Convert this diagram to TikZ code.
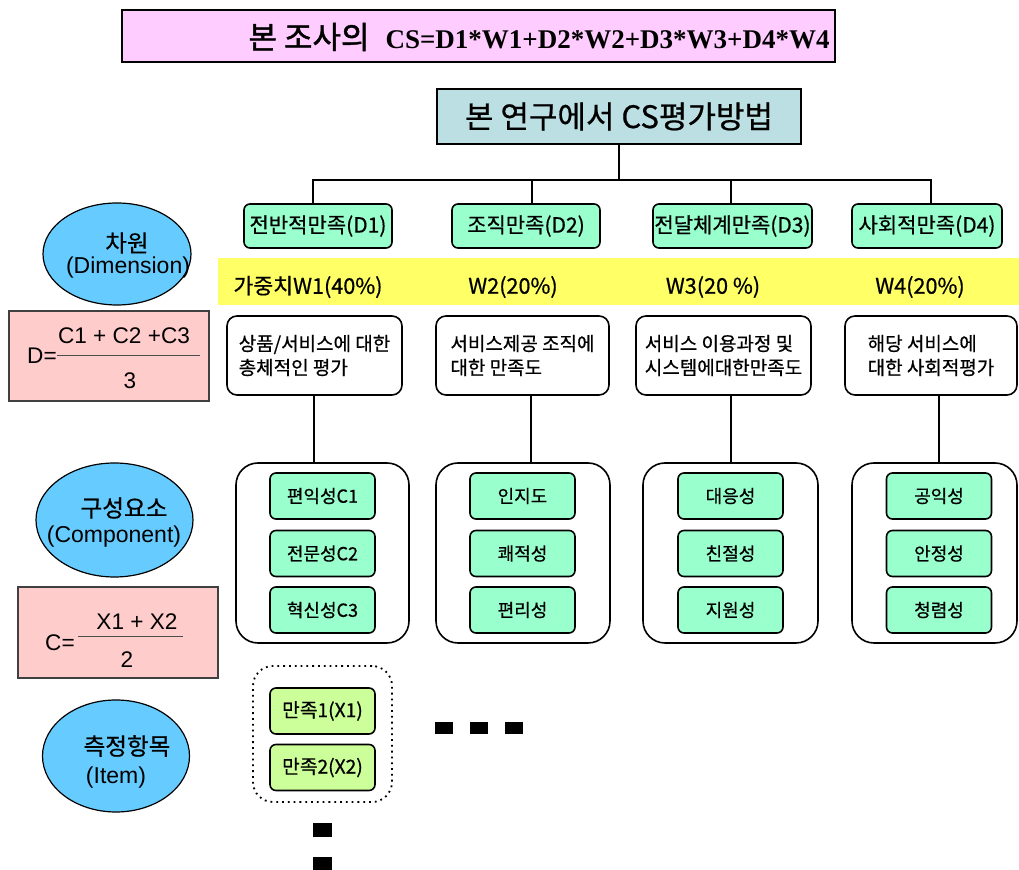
\documentclass[tikz,border=0pt]{standalone}
\usepackage{fontspec}
\setmainfont[FakeBold=0.6]{Noto Sans CJK KR}
\newfontfamily\lat{Liberation Sans}
\newfontfamily\tms{Liberation Serif}
\newfontfamily\krb[FakeBold=1.5]{Noto Sans CJK KR}
\usetikzlibrary{shapes.geometric}
\definecolor{titlefill}{HTML}{FFCCFF}
\definecolor{csfill}{HTML}{BBDFE2}
\definecolor{dfill}{HTML}{99FFCC}
\definecolor{bandfill}{HTML}{FFFF66}
\definecolor{ellfill}{HTML}{66CCFF}
\definecolor{formfill}{HTML}{FFCCCC}
\definecolor{xfill}{HTML}{CCFF99}
\begin{document}
\begin{tikzpicture}[x=0.5pt,y=-0.5pt,
  box/.style={draw, line width=0.8pt, inner sep=0pt, align=center},
  dbox/.style={box, fill=dfill, rounded corners=3pt, minimum height=22pt, font=\fontsize{10.5}{12}\selectfont},
  descbox/.style={box, fill=white, rounded corners=5pt, minimum height=39.5pt, align=left, font=\fontsize{9.5}{12}\selectfont},
  compbox/.style={box, fill=white, rounded corners=11pt, minimum height=90pt},
  itembox/.style={box, fill=dfill, rounded corners=3pt, minimum width=52.5pt, minimum height=23pt, font=\fontsize{9}{11}\selectfont},
  xbox/.style={itembox, fill=xfill, font=\fontsize{9.6}{11}\selectfont},
  ell/.style={ellipse, draw, line width=0.6pt, fill=ellfill, inner sep=0pt},
  etext/.style={inner sep=0pt, font=\fontsize{11.8}{12.5}\selectfont},
  eltext/.style={inner sep=0pt, font=\lat\fontsize{11.5}{12.5}\selectfont},
  formbox/.style={draw=black!75, line width=0.8pt, fill=formfill, inner sep=0pt, minimum width=100pt},
  wtext/.style={font=\fontsize{10.8}{12}\selectfont, inner sep=0pt},
  ftext/.style={font=\lat\fontsize{11.3}{12}\selectfont, inner sep=0pt},
  conn/.style={line width=0.6pt},
  dots/.style={fill=black}]
\useasboundingbox (0,0) rectangle (1019,870);

% title
\node[draw, line width=1.4pt, fill=titlefill, minimum width=356.5pt, minimum height=26pt, inner sep=0pt] (title) at (478.5,36) {};
\node[anchor=east, inner sep=0pt] (titletext) at (830,37) {{\krb\fontsize{15.5}{17}\selectfont 본 조사의}\hspace{8pt}{\tms\bfseries\fontsize{13.5}{15}\selectfont CS=D1*W1+D2*W2+D3*W3+D4*W4}};

% root
\node[box, fill=csfill, minimum width=182pt, minimum height=27.5pt, font=\fontsize{15.5}{17}\selectfont] (cs) at (619,116.5) {본 연구에서 CS평가방법};

% dimension boxes
\node[dbox, minimum width=74pt] (d1) at (318,226) {전반적만족(D1)};
\node[dbox, minimum width=74pt] (d2) at (526,226) {조직만족(D2)};
\node[dbox, minimum width=79.5pt] (d3) at (732.5,226) {전달체계만족(D3)};
\node[dbox, minimum width=75pt] (d4) at (927,226) {사회적만족(D4)};

\coordinate (bus) at (0,180);
\coordinate (dx1) at (313,0);
\coordinate (dx2) at (532,0);
\coordinate (dx3) at (731,0);
\coordinate (dx4) at (931,0);
\draw[conn] (cs.south) -- (cs.south |- bus);
\draw[conn] (d1.north -| dx1) -- (dx1 |- bus) -- (dx4 |- bus) -- (d4.north -| dx4);
\draw[conn] (d2.north -| dx2) -- (dx2 |- bus);
\draw[conn] (d3.north -| dx3) -- (dx3 |- bus);

% weight band
\fill[bandfill] (218,258) rectangle (1019,305);
\node[wtext] (w1) at (308,287) {가중치W1(40\%)};
\node[wtext] (w2) at (513,287) {W2(20\%)};
\node[wtext] (w3) at (713,287) {W3(20 \%)};
\node[wtext] (w4) at (920,287) {W4(20\%)};

% description boxes
\node[descbox, minimum width=87.5pt] (desc1) at (314.5,355.5) {상품/서비스에 대한\\총체적인 평가};
\node[descbox, minimum width=86.5pt] (desc2) at (522.5,355.5) {서비스제공 조직에\\대한 만족도};
\node[descbox, minimum width=87.5pt] (desc3) at (723.5,355.5) {서비스 이용과정 및\\시스템에대한만족도};
\node[descbox, minimum width=86pt] (desc4) at (931,355.5) {해당 서비스에\\대한 사회적평가};

% component containers
\node[compbox, minimum width=86.5pt] (comp1) at (322.5,553) {};
\node[compbox, minimum width=87pt] (comp2) at (523,553) {};
\node[compbox, minimum width=87.5pt] (comp3) at (730.5,553) {};
\node[compbox, minimum width=82.5pt] (comp4) at (934.5,553) {};

\coordinate (lx1) at (314,0);
\coordinate (lx2) at (531,0);
\coordinate (lx3) at (731,0);
\coordinate (lx4) at (939,0);
\draw[conn] (desc1.south -| lx1) -- (comp1.north -| lx1);
\draw[conn] (desc2.south -| lx2) -- (comp2.north -| lx2);
\draw[conn] (desc3.south -| lx3) -- (comp3.north -| lx3);
\draw[conn] (desc4.south -| lx4) -- (comp4.north -| lx4);

% component items
\node[itembox] (c11) at (322.5,496) {편익성C1};
\node[itembox] (c12) at (322.5,553.5) {전문성C2};
\node[itembox] (c13) at (322.5,610) {혁신성C3};
\node[itembox] (c21) at (522.5,496) {인지도};
\node[itembox] (c22) at (522.5,553.5) {쾌적성};
\node[itembox] (c23) at (522.5,610) {편리성};
\node[itembox] (c31) at (730.5,496) {대응성};
\node[itembox] (c32) at (730.5,553.5) {친절성};
\node[itembox] (c33) at (730.5,610) {지원성};
\node[itembox] (c41) at (939,496) {공익성};
\node[itembox] (c42) at (939,553.5) {안정성};
\node[itembox] (c43) at (939,610) {청렴성};

% left ellipses
\node[ell, minimum width=74pt, minimum height=51pt] (e1) at (117,254) {};
\node[etext] (e1a) at (127,243) {차원};
\node[eltext] (e1b) at (128,268) {(Dimension)};
\node[ell, minimum width=78.5pt, minimum height=57pt] (e2) at (114.5,520) {};
\node[etext] (e2a) at (124,508) {구성요소};
\node[eltext] (e2b) at (114,537) {(Component)};
\node[ell, minimum width=73.5pt, minimum height=56pt] (e3) at (116,756) {};
\node[etext] (e3a) at (127,746) {측정항목};
\node[eltext] (e3b) at (116,778) {(Item)};

% formula boxes
\node[formbox, minimum height=45pt] (fd) at (109,356) {};
\node[ftext] (fdlab) at (42,356) {D=};
\node[ftext] (fdnum) at (124,336) {C1 + C2 +C3};
\node[ftext] (fdden) at (130,381) {3};
\coordinate (fdl) at (57,356);
\coordinate (fdr) at (200,356);
\draw[line width=0.5pt, black!70] (fdl) -- (fdr);

\node[formbox, minimum height=45.5pt] (fc) at (118,632.5) {};
\node[ftext] (fclab) at (60,643) {C=};
\node[ftext] (fcnum) at (137,622) {X1 + X2};
\node[ftext] (fcden) at (127,660) {2};
\coordinate (fcl) at (78,637);
\coordinate (fcr) at (183,637);
\draw[line width=0.5pt, black!70] (fcl) -- (fcr);

% item container
\node[draw, dotted, line width=0.9pt, rounded corners=10pt, minimum width=69.5pt, minimum height=68pt, inner sep=0pt] (xc) at (322.5,734) {};
\node[xbox] (x1) at (322.5,711) {만족1(X1)};
\node[xbox] (x2) at (322.5,767.5) {만족2(X2)};

% ellipsis squares
\fill[dots] (435,722) rectangle (453,734);
\fill[dots] (470,722) rectangle (488,734);
\fill[dots] (505,722) rectangle (523,734);
\fill[dots] (313,823) rectangle (332,837);
\fill[dots] (313,857) rectangle (332,870);
\end{tikzpicture}
\end{document}
